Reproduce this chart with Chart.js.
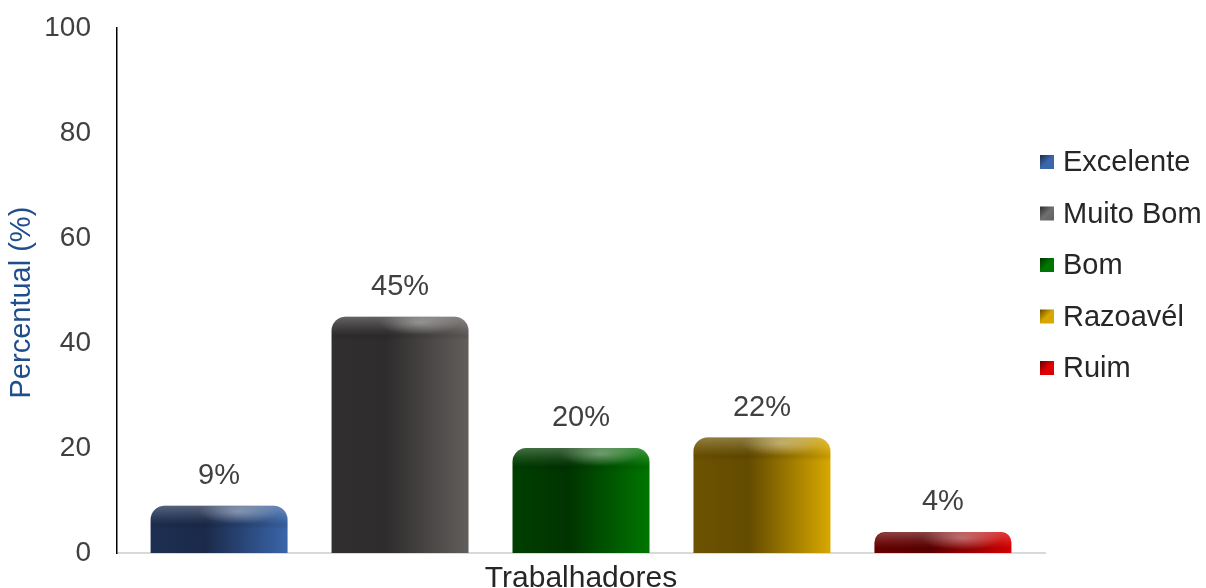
<!DOCTYPE html>
<html>
<head>
<meta charset="utf-8">
<script src="https://cdn.jsdelivr.net/npm/chart.js@4.4.1/dist/chart.umd.min.js"></script>
<style>
  html, body { margin: 0; padding: 0; background: #fff; }
</style>
</head>
<body>
<canvas id="myChart" width="1206" height="588"></canvas>
<script>
// dados do gráfico
const categories = ["Trabalhadores"];
const seriesNames = ["Excelente", "Muito Bom", "Bom", "Razoavél", "Ruim"];
const seriesValues = [9, 45, 20, 22, 4];
const yTicks = [0, 20, 40, 60, 80, 100];

// cores: borda esquerda, meio escuro, lado claro, cor da legenda
const shades = [
  { edge: "#1d2f52", dark: "#1b2a4a", light: "#3a66aa", key: "#3a66aa" },
  { edge: "#302e2e", dark: "#2e2c2c", light: "#625e5c", key: "#707070" },
  { edge: "#003f00", dark: "#003300", light: "#007600", key: "#007600" },
  { edge: "#6d5200", dark: "#634b00", light: "#d8a800", key: "#d8a800" },
  { edge: "#6a0000", dark: "#5c0000", light: "#e00000", key: "#e00000" },
];

const FONT = "'Liberation Sans', Arial, sans-serif";
const RADIUS = 14;

function roundTopPath(ctx, left, top, w, h, r) {
  ctx.beginPath();
  ctx.moveTo(left, top + h);
  ctx.lineTo(left, top + r);
  ctx.quadraticCurveTo(left, top, left + r, top);
  ctx.lineTo(left + w - r, top);
  ctx.quadraticCurveTo(left + w, top, left + w, top + r);
  ctx.lineTo(left + w, top + h);
  ctx.closePath();
}

// gradiente horizontal + brilho no topo das barras
const bevelPlugin = {
  id: "bevel",
  beforeDatasetsDraw(chart) {
    const ctx = chart.ctx;
    chart.data.datasets.forEach((ds, i) => {
      chart.getDatasetMeta(i).data.forEach((bar) => {
        const left = bar.x - bar.width / 2;
        const g = ctx.createLinearGradient(left, 0, left + bar.width, 0);
        const s = shades[i];
        g.addColorStop(0, s.edge);
        g.addColorStop(0.4, s.dark);
        g.addColorStop(1, s.light);
        bar.options = Object.assign({}, bar.options, { backgroundColor: g });
      });
    });
  },
  afterDatasetsDraw(chart) {
    const ctx = chart.ctx;
    chart.data.datasets.forEach((ds, i) => {
      chart.getDatasetMeta(i).data.forEach((bar) => {
        const left = bar.x - bar.width / 2;
        const top = bar.y;
        const h = bar.base - bar.y;
        ctx.save();
        roundTopPath(ctx, left, top, bar.width, h, RADIUS);
        ctx.clip();
        const band = Math.min(24, h);
        const vg = ctx.createLinearGradient(0, top, 0, top + band);
        vg.addColorStop(0, "rgba(255,255,255,0.26)");
        vg.addColorStop(0.4, "rgba(255,255,255,0.10)");
        vg.addColorStop(0.8, "rgba(0,0,0,0.08)");
        vg.addColorStop(1, "rgba(0,0,0,0)");
        ctx.fillStyle = vg;
        ctx.fillRect(left, top, bar.width, band);
        // reflexo
        ctx.translate(left + bar.width * 0.64, top + 6);
        ctx.scale(3.4, 1);
        const rg = ctx.createRadialGradient(0, 0, 0, 0, 0, 12);
        rg.addColorStop(0, "rgba(255,255,255,0.32)");
        rg.addColorStop(1, "rgba(255,255,255,0)");
        ctx.fillStyle = rg;
        ctx.fillRect(-12, -12, 24, 24);
        ctx.restore();
      });
    });
  },
};

// rótulos de valor acima das barras
const valueLabels = {
  id: "valueLabels",
  afterDatasetsDraw(chart) {
    const ctx = chart.ctx;
    ctx.save();
    ctx.font = "29px " + FONT;
    ctx.fillStyle = "#404040";
    ctx.textAlign = "center";
    ctx.textBaseline = "middle";
    chart.data.datasets.forEach((ds, i) => {
      chart.getDatasetMeta(i).data.forEach((bar, j) => {
        ctx.fillText(ds.data[j] + "%", bar.x, bar.y - 30);
      });
    });
    ctx.restore();
  },
};

// legenda à direita
const sideLegend = {
  id: "sideLegend",
  afterDraw(chart) {
    const ctx = chart.ctx;
    const x = chart.chartArea.right - 5;
    ctx.save();
    ctx.font = "29px " + FONT;
    ctx.textBaseline = "middle";
    chart.data.datasets.forEach((ds, i) => {
      const y = 162 + i * 51.5;
      const g = ctx.createLinearGradient(x, y - 7, x + 14, y + 7);
      g.addColorStop(0, shades[i].dark);
      g.addColorStop(0.5, shades[i].key);
      g.addColorStop(1, shades[i].light);
      ctx.fillStyle = g;
      ctx.fillRect(x, y - 7, 14, 14);
      ctx.fillStyle = "#262626";
      ctx.fillText(ds.label, x + 23, y + 1);
    });
    ctx.restore();
  },
};

const ctx = document.getElementById("myChart").getContext("2d");

new Chart(ctx, {
  type: "bar",
  data: {
    labels: categories,
    datasets: seriesNames.map((name, i) => ({
      label: name,
      data: [seriesValues[i]],
      backgroundColor: shades[i].light,
      borderWidth: 0,
      borderRadius: { topLeft: RADIUS, topRight: RADIUS },
      borderSkipped: "bottom",
      categoryPercentage: 0.975,
      barPercentage: 0.757,
    })),
  },
  options: {
    responsive: false,
    animation: false,
    devicePixelRatio: 1,
    layout: { padding: { top: 28, right: 161, left: 0, bottom: 0 } },
    plugins: {
      legend: { display: false },
      tooltip: { enabled: false },
    },
    scales: {
      x: {
        grid: { display: false, drawTicks: false },
        border: { color: "#d9d9d9", width: 2 },
        ticks: { font: { family: FONT, size: 30 }, color: "#262626", padding: 8 },
        afterFit: (scale) => { scale.height = 35; },
      },
      y: {
        min: 0,
        max: 100,
        afterBuildTicks: (scale) => { scale.ticks = yTicks.map((v) => ({ value: v })); },
        grid: { display: false, drawTicks: false },
        border: { color: "#000000", width: 1.5 },
        ticks: { font: { family: FONT, size: 28 }, color: "#404040", padding: 26 },
        title: {
          display: true,
          // espaços no fim descem um pouco o texto girado
          text: "Percentual (%)   ",
          color: "#1f4e8c",
          font: { family: FONT, size: 29 },
          padding: { top: 5, bottom: 0 },
        },
        afterFit: (scale) => {
          scale.width = 117;
          // evita que o espaço dos rótulos empurre a área do gráfico
          scale.paddingTop = 0;
          scale.paddingBottom = 0;
        },
      },
    },
  },
  plugins: [bevelPlugin, valueLabels, sideLegend],
});
</script>
</body>
</html>
